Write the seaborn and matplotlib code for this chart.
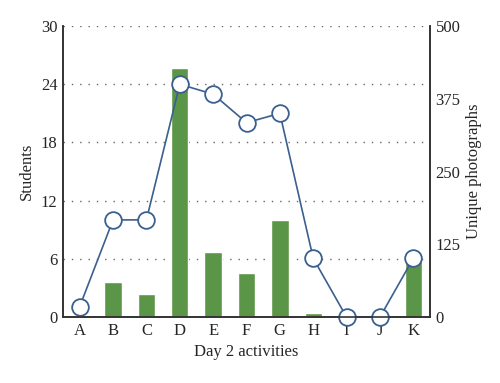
import numpy as np
import pandas as pd
import matplotlib
matplotlib.use("Agg")
import matplotlib.pyplot as plt
import seaborn as sns

# dados
activities = ["A", "B", "C", "D", "E", "F", "G", "H", "I", "J", "K"]
students = [0, 3.6, 2.4, 25.7, 6.7, 4.5, 10.0, 0.4, 0, 0, 5.9]
photos = [18, 167, 167, 400, 383, 334, 350, 101, 0, 0, 101]

left_ticks = [0, 6, 12, 18, 24, 30]
right_ticks = [0, 125, 250, 375, 500]

df = pd.DataFrame({"activity": activities, "students": students,
                   "photos": photos, "pos": np.arange(len(activities))})

sns.set_style("white")
plt.rcParams["font.family"] = ["Liberation Serif", "DejaVu Serif"]

fig = plt.figure(figsize=(5, 3.83), dpi=100)
ax = fig.add_axes([0.126, 0.172, 0.734, 0.76])

sns.barplot(data=df, x="activity", y="students", color="#5b9648",
            saturation=1, width=0.52, ax=ax, zorder=2)
ax.set_ylim(0, 30)
ax.set_xlim(-0.5, len(activities) - 0.5)
ax.set_yticks(left_ticks)
for t in left_ticks[1:]:
    ax.axhline(t, color="#666666", lw=1.0, ls=(0, (1, 5)), zorder=0)
ax.set_xlabel("Day 2 activities", fontsize=12)
ax.set_ylabel("Students", fontsize=12)
ax.tick_params(axis="both", length=0, labelsize=12, pad=4)

ax2 = ax.twinx()
sns.lineplot(data=df, x="pos", y="photos", color="#3b5f8e", lw=1.2,
             marker="o", markersize=12, markerfacecolor="white",
             markeredgecolor="#3b5f8e", markeredgewidth=1.3, ax=ax2,
             clip_on=False)
ax2.set_ylim(0, 500)
ax2.set_yticks(right_ticks)
ax2.set_ylabel("Unique photographs", fontsize=12)
ax2.tick_params(axis="y", length=0, labelsize=12, pad=4)
ax2.set_xlim(-0.5, len(activities) - 0.5)

for a in (ax, ax2):
    a.spines["top"].set_visible(False)
    a.spines["left"].set_color("#333333")
    a.spines["right"].set_color("#333333")
    a.spines["bottom"].set_color("#333333")
    a.spines["left"].set_linewidth(1.2)
    a.spines["right"].set_linewidth(1.2)
    a.spines["bottom"].set_linewidth(1.2)

fig.savefig("out.png", dpi=100)
